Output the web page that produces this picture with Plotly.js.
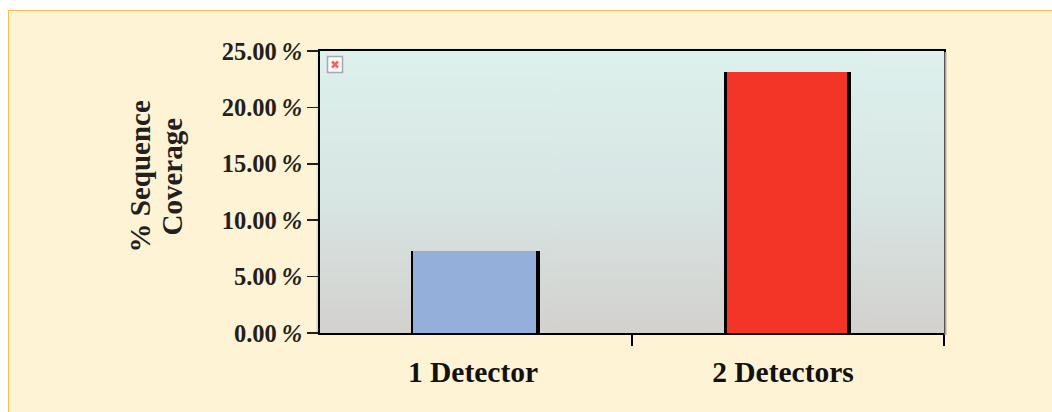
<!DOCTYPE html>
<html>
<head>
<meta charset="utf-8">
<script src="https://cdn.plot.ly/plotly-3.0.1.min.js"></script>
<style>
html,body{margin:0;padding:0;background:#fff;width:1052px;height:412px;overflow:hidden}
#frame{position:absolute;left:8px;top:10px;right:0;bottom:0;background:#fef3d4;border-left:1.5px solid #fdbb4d;border-top:1.5px solid #fdbb4d}
#chart{position:absolute;left:0;top:0;width:1052px;height:412px}
.bars path{shape-rendering:crispEdges}
</style>
</head>
<body>
<div id="frame"></div>
<div id="chart"></div>
<script>
const categories = ['1 Detector', '2 Detectors'];
const coverage = [7.27, 23.14];
const yTicks = [0, 5, 10, 15, 20, 25];
const yTitleLines = ['% Sequence', 'Coverage'];

const W = 1052, H = 412;
const m = {l: 320, r: 108, t: 51, b: 79};
const pw = W - m.l - m.r, ph = H - m.t - m.b;
const px = v => (v - m.l) / pw;
const py = v => 1 - (v - m.t) / ph;
const idx = categories.map((_, i) => i);
const labelNudge = [-0.0096, -0.016];
const font = 'Liberation Serif, Times New Roman, serif';
const ink = '#231f20';

// vertical gradient panel behind the plot
const c = document.createElement('canvas');
c.width = 4; c.height = 286;
const g = c.getContext('2d');
const grad = g.createLinearGradient(0, 0, 0, 286);
grad.addColorStop(0, '#ddf1ed');
grad.addColorStop(0.5, '#d8e6e4');
grad.addColorStop(1, '#d3d1ce');
g.fillStyle = grad; g.fillRect(0, 0, 4, 286);

const traces = [
  {type: 'bar', x: idx, y: coverage, offset: [-0.208, -0.205], width: [0.413, 0.407],
   marker: {color: '#000', line: {width: 0}}, hoverinfo: 'skip', showlegend: false},
  {type: 'bar', x: idx, y: coverage, offset: [-0.2035, -0.196], width: [0.397, 0.385],
   marker: {color: ['#95afdb', '#f23527'], line: {width: 0}}, showlegend: false}
];

const rect = (x0, y0, x1, y1, fill, line, lw) => ({
  type: 'rect', xref: 'paper', yref: 'paper', layer: 'above',
  x0: px(x0), x1: px(x1), y0: py(y0), y1: py(y1),
  fillcolor: fill, line: {color: line || fill, width: lw || 0}
});
const seg = (x0, y0, x1, y1) => ({
  type: 'line', xref: 'paper', yref: 'paper', layer: 'above',
  x0: px(x0), x1: px(x1), y0: py(y0), y1: py(y1),
  line: {color: '#f8615a', width: 2.5}
});
const titleLine = (text, x) => ({
  text: text, xref: 'paper', yref: 'paper', x: px(x), y: py(176.5),
  showarrow: false, textangle: -90, xanchor: 'center', yanchor: 'middle',
  font: {family: font, size: 29, color: ink, weight: 'bold'}
});

const layout = {
  width: W, height: H, margin: m, autosize: false,
  paper_bgcolor: 'rgba(0,0,0,0)', plot_bgcolor: 'rgba(0,0,0,0)',
  barmode: 'overlay', showlegend: false,
  font: {family: font, color: ink},
  xaxis: {
    range: [-0.5, 1.5], tickmode: 'array', tickvals: idx.map((v, i) => v + labelNudge[i]), ticktext: categories,
    tickfont: {family: font, size: 29.5, color: '#111', weight: 'bold'},
    ticks: '', ticklabelstandoff: 12, zeroline: false, showgrid: false,
    showline: true, linecolor: '#000', linewidth: 2, mirror: true, fixedrange: true,
    minor: {tickmode: 'array', tickvals: [0.5, 1.5], ticks: 'outside', ticklen: 11,
            tickwidth: 2, tickcolor: '#000', showgrid: false}
  },
  yaxis: {
    range: [0, 25], tickmode: 'array', tickvals: yTicks,
    ticktext: yTicks.map(v => v.toFixed(2) + '\u2009<i>%</i>'),
    tickfont: {family: font, size: 24.5, color: ink, weight: 'bold'},
    ticks: 'outside', ticklen: 11, tickwidth: 1.5, tickcolor: ink,
    showgrid: false, zeroline: false, showline: true, linecolor: '#000', linewidth: 2,
    mirror: true, fixedrange: true
  },
  images: [{
    source: c.toDataURL(), xref: 'paper', yref: 'paper', layer: 'below',
    x: px(316.5), y: py(48.5), sizex: (944 - 316.5) / pw, sizey: (334.5 - 48.5) / ph,
    sizing: 'stretch', xanchor: 'left', yanchor: 'top'
  }],
  shapes: [
    rect(944.5, 52, 946.5, 335, '#a8a6a2'),
    rect(327.5, 56.5, 342.5, 72.5, '#fafafa', '#a9a9a9', 1.5),
    seg(332, 61.5, 338, 67.5),
    seg(338, 61.5, 332, 67.5)
  ],
  annotations: [titleLine(yTitleLines[0], 139), titleLine(yTitleLines[1], 171)]
};

Plotly.newPlot('chart', traces, layout, {displayModeBar: false, staticPlot: true});
</script>
</body>
</html>
